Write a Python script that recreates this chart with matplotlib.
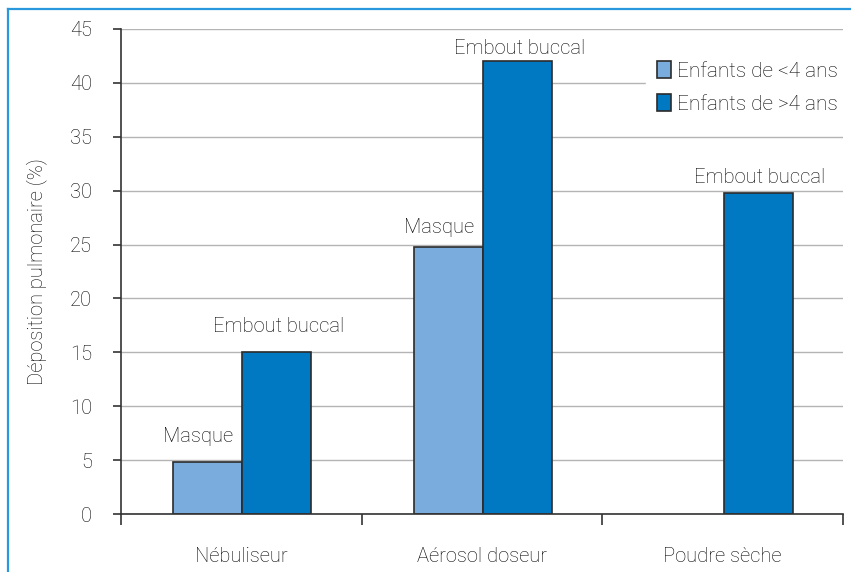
import numpy as np
import matplotlib
matplotlib.use("Agg")
import matplotlib.pyplot as plt
from matplotlib.lines import Line2D

plt.rcParams['font.family'] = ['Roboto', 'DejaVu Sans']
plt.rcParams['font.weight'] = 'light'
plt.rcParams['axes.labelweight'] = 'light'

# Données
categories = ["Nébuliseur", "Aérosol doseur", "Poudre sèche"]
moins_4 = [4.8, 24.8, 0]
plus_4 = [15, 42, 29.8]
labels_moins_4 = ["Masque", "Masque", ""]
labels_plus_4 = ["Embout buccal", "Embout buccal", "Embout buccal"]
series = ["Enfants de <4 ans", "Enfants de >4 ans"]

c_light = "#7aaddd"
c_dark = "#0079c2"
txt = "#050505"
fs = 14.5

fig = plt.figure(figsize=(8.51, 5.72), dpi=100)
ax = fig.add_axes([121 / 851, 1 - 514 / 572, 722 / 851, 485 / 572])

x = np.arange(len(categories))
w = 0.287

lw_light = [1.2 if v > 0 else 0 for v in moins_4]
ax.bar(x - w / 2 + 0.004, moins_4, w, color=c_light, edgecolor="#2b2b2b",
       linewidth=lw_light, label=series[0], zorder=2)
ax.bar(x + w / 2 + 0.004, plus_4, w, color=c_dark, edgecolor="#2b2b2b",
       linewidth=1.2, label=series[1], zorder=2)

# textes au-dessus des barres (décalages en points)
gap_light = [14.4, 10, 0]
gap_dark = [14.4, 5, 7.2]
for i in range(len(categories)):
    if labels_moins_4[i]:
        ax.annotate(labels_moins_4[i], (x[i] - w / 2, moins_4[i]),
                    xytext=(-6, gap_light[i]), textcoords="offset points",
                    ha="center", va="baseline", fontsize=fs, color=txt)
    ax.annotate(labels_plus_4[i], (x[i] + w / 2, plus_4[i]),
                xytext=(2, gap_dark[i]), textcoords="offset points",
                ha="center", va="baseline", fontsize=fs, color=txt)

ax.set_xlim(-0.5, 2.5)
ax.set_ylim(0, 45)
ax.set_yticks(np.arange(0, 46, 5))
ax.yaxis.grid(True, color="#b4b4b4", linewidth=1.0, zorder=0)
ax.set_axisbelow(True)

ax.set_xticks([-0.5, 0.5, 1.5, 2.5])
ax.set_xticklabels([])
ax.set_xticks(x, minor=True)
ax.set_xticklabels(categories, minor=True)
ax.tick_params(axis="x", which="major", direction="out", length=8,
               width=1.2, color="#333333")
ax.tick_params(axis="x", which="minor", length=0, pad=24, labelsize=fs,
               labelcolor=txt)
ax.tick_params(axis="y", direction="out", length=6, width=1.2,
               color="#333333", pad=15, labelsize=fs, labelcolor=txt)

for s in ["top", "right"]:
    ax.spines[s].set_visible(False)
for s in ["left", "bottom"]:
    ax.spines[s].set_color("#333333")
    ax.spines[s].set_linewidth(1.2)

ax.set_ylabel("Déposition pulmonaire (%)", fontsize=fs, color=txt,
              labelpad=16)

leg = ax.legend(loc="upper right", bbox_to_anchor=(1.008, 0.955), fontsize=15,
                frameon=True, fancybox=False, handlelength=0.7,
                handleheight=0.85, handletextpad=0.3, labelspacing=0.65,
                borderpad=0.5, borderaxespad=0)
leg.get_frame().set_edgecolor("white")
leg.get_frame().set_facecolor("white")
leg.get_frame().set_alpha(1)
for t in leg.get_texts():
    t.set_color(txt)

# cadre bleu (gauche et haut)
fig.add_artist(Line2D([8 / 851, 8 / 851], [0, 1 - 9 / 572], color="#2a98dc",
                      linewidth=1.6, transform=fig.transFigure))
fig.add_artist(Line2D([8 / 851, 1], [1 - 9 / 572, 1 - 9 / 572],
                      color="#2a98dc", linewidth=1.6,
                      transform=fig.transFigure))

fig.savefig("out.png", dpi=100)
